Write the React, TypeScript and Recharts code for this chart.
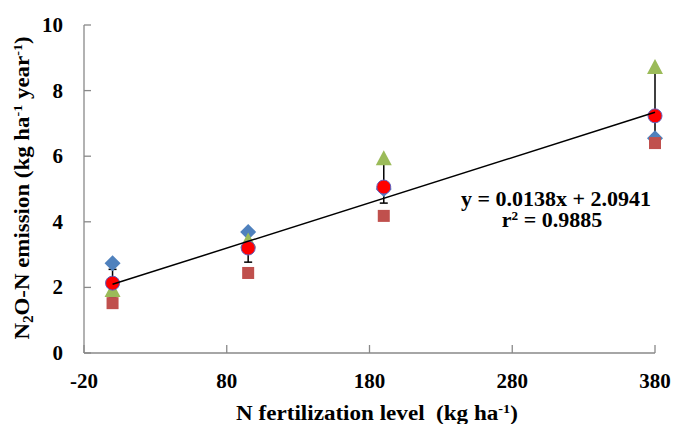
import React from 'react';
import { ScatterChart, Scatter, XAxis, YAxis, ErrorBar } from 'recharts';

// N fertilization levels (kg ha-1)
const nLevels = [0, 95, 190, 380];
// individual series (kg ha-1 year-1)
const seriesDiamond = [2.74, 3.69, 5.0, 6.55];
const seriesSquare = [1.52, 2.44, 4.18, 6.4];
const seriesTriangle = [1.89, 3.4, 5.91, 8.69];
// mean and its error bars
const seriesMean = [2.13, 3.2, 5.06, 7.23];
const errLow = [0.42, 0.43, 0.49, 0.58];
const errHigh = [0.42, 0.43, 0.78, 1.35];
// axis ticks
const xTicks = [-20, 80, 180, 280, 380];
const yTicks = [0, 2, 4, 6, 8, 10];
// regression
const slope = 0.0138;
const intercept = 2.0941;
const rSquared = 0.9885;
const trendX = [0, 380];

const FONT = "'Liberation Serif', 'Times New Roman', serif";
const AXIS_COLOR = '#898989';

const toPts = (vals: number[]) => nLevels.map((x, i) => ({ x, y: vals[i] }));
const diamondData = toPts(seriesDiamond);
const squareData = toPts(seriesSquare);
const triangleData = toPts(seriesTriangle);
const meanData = nLevels.map((x, i) => ({ x, y: seriesMean[i], err: [errLow[i], errHigh[i]] }));
const trendData = trendX.map((x) => ({ x, y: slope * x + intercept }));

const Diamond = (p: any) => {
  const { cx, cy } = p;
  return <path d={`M${cx},${cy - 8}L${cx + 8},${cy}L${cx},${cy + 8}L${cx - 8},${cy}Z`} fill="#4F81BD" />;
};
const Square = (p: any) => {
  const { cx, cy } = p;
  return <rect x={cx - 6} y={cy - 6} width={12} height={12} fill="#C0504D" />;
};
const Triangle = (p: any) => {
  const { cx, cy } = p;
  return <path d={`M${cx},${cy - 9}L${cx + 8},${cy + 6}L${cx - 8},${cy + 6}Z`} fill="#9BBB59" />;
};
const Dot = (p: any) => {
  const { cx, cy } = p;
  return <circle cx={cx} cy={cy} r={7} fill="#FF0000" stroke="#6060C0" strokeWidth={1} />;
};
const Nothing = () => <g />;

const XTick = (p: any) => {
  const { x, y, payload } = p;
  return (
    <g>
      <line x1={x} x2={x} y1={y - 8} y2={y - 16} stroke={AXIS_COLOR} strokeWidth={1.3} />
      <text
        transform={`translate(${x},${y + 27}) scale(1.05,1)`}
        textAnchor="middle"
        fontFamily={FONT}
        fontWeight="bold"
        fontSize={20}
        fill="#000"
      >
        {payload.value}
      </text>
    </g>
  );
};
const YTick = (p: any) => {
  const { x, y, payload } = p;
  return (
    <g>
      <line x1={x + 21} x2={x + 28} y1={y} y2={y} stroke={AXIS_COLOR} strokeWidth={1.3} />
      <text
        transform={`translate(${x},${y + 7}) scale(1.05,1)`}
        textAnchor="end"
        fontFamily={FONT}
        fontWeight="bold"
        fontSize={20}
        fill="#000"
      >
        {payload.value}
      </text>
    </g>
  );
};

export default function App() {
  return (
    <div style={{ position: 'absolute', left: 0, top: 0, width: 673, height: 424, background: '#fff' }}>
      <ScatterChart width={673} height={424} margin={{ top: 25, right: 18, left: 0, bottom: 0 }}>
        <XAxis
          type="number"
          dataKey="x"
          domain={[-20, 380]}
          ticks={xTicks}
          interval={0}
          height={71}
          axisLine={{ stroke: AXIS_COLOR, strokeWidth: 1.3 }}
          tickLine={false}
          tickSize={0}
          tickMargin={8}
          tick={<XTick />}
        />
        <YAxis
          type="number"
          dataKey="y"
          domain={[0, 10]}
          ticks={yTicks}
          interval={0}
          width={84}
          axisLine={{ stroke: AXIS_COLOR, strokeWidth: 1.3 }}
          tickLine={false}
          tickSize={0}
          tickMargin={21}
          tick={<YTick />}
        />
        <Scatter data={meanData} shape={Nothing} isAnimationActive={false}>
          <ErrorBar dataKey="err" direction="y" width={4} stroke="#000" strokeWidth={1.5} isAnimationActive={false} />
        </Scatter>
        <Scatter data={diamondData} shape={Diamond} isAnimationActive={false} />
        <Scatter data={squareData} shape={Square} isAnimationActive={false} />
        <Scatter data={triangleData} shape={Triangle} isAnimationActive={false} />
        <Scatter data={meanData} shape={Dot} isAnimationActive={false} />
        <Scatter
          data={trendData}
          shape={Nothing}
          line={{ stroke: '#000', strokeWidth: 1.5 }}
          lineType="joint"
          isAnimationActive={false}
        />
        <text
          transform="translate(556,206) scale(1.1,1)"
          textAnchor="middle"
          fontFamily={FONT}
          fontWeight="bold"
          fontSize={20}
          fill="#000"
        >
          {`y = ${slope}x + ${intercept}`}
        </text>
        <text
          transform="translate(552,227) scale(1.1,1)"
          textAnchor="middle"
          fontFamily={FONT}
          fontWeight="bold"
          fontSize={20}
          fill="#000"
        >
          r<tspan dy={-7} fontSize={12}>2</tspan>
          <tspan dy={7}>{` = ${rSquared}`}</tspan>
        </text>
        <text
          transform="translate(29,188) rotate(-90) scale(1.09,1)"
          textAnchor="middle"
          fontFamily={FONT}
          fontWeight="bold"
          fontSize={21}
          fill="#000"
        >
          N<tspan dy={4} fontSize={14}>2</tspan>
          <tspan dy={-4}>O-N emission (kg ha</tspan>
          <tspan dy={-7} fontSize={13}>-1</tspan>
          <tspan dy={7}> year</tspan>
          <tspan dy={-7} fontSize={13}>-1</tspan>
          <tspan dy={7}>)</tspan>
        </text>
        <text
          transform="translate(377,420) scale(1.1,1)"
          textAnchor="middle"
          fontFamily={FONT}
          fontWeight="bold"
          fontSize={21}
          fill="#000"
        >
          N fertilization level{'\u00a0\u00a0'}(kg ha
          <tspan dy={-7} fontSize={13}>-1</tspan>
          <tspan dy={7}>)</tspan>
        </text>
      </ScatterChart>
    </div>
  );
}
